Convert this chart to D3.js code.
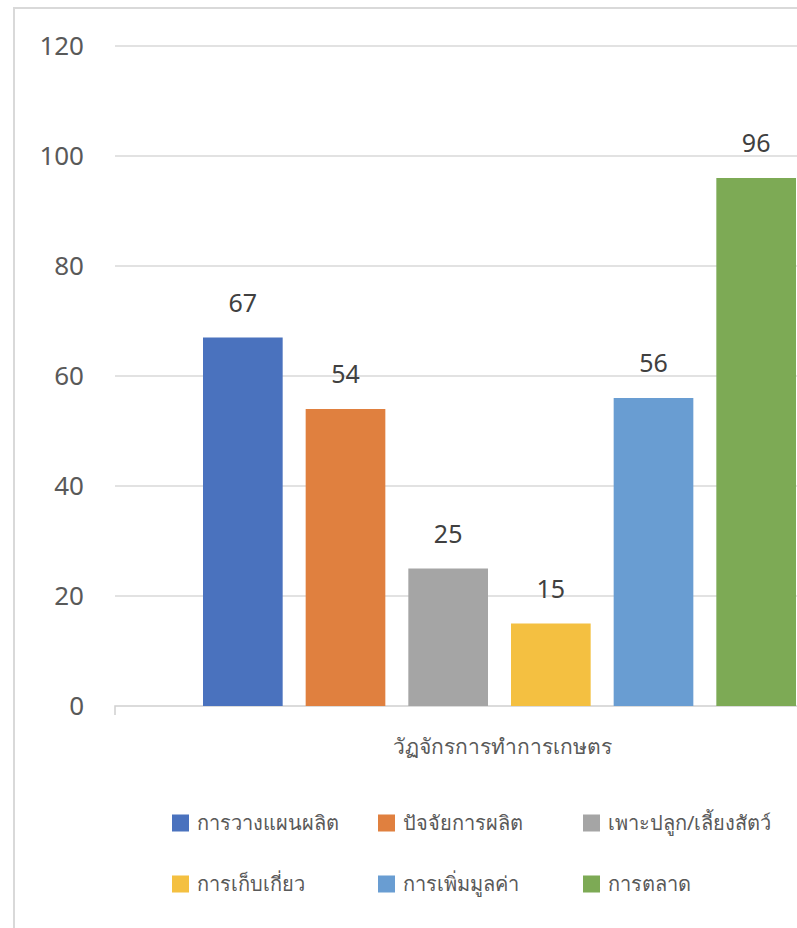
<!DOCTYPE html>
<html><head><meta charset="utf-8">
<script src="https://cdn.jsdelivr.net/npm/d3@7"></script>
<style>
html,body{margin:0;padding:0;background:#fff;}
svg{display:block;font-family:"Noto Sans","Open Sans",sans-serif;}
</style></head>
<body><svg id="chart" width="797" height="928"></svg>
<script>
const categories = ["วัฏจักรการทำการเกษตร"];
const seriesNames = ["การวางแผนผลิต","ปัจจัยการผลิต","เพาะปลูก/เลี้ยงสัตว์","การเก็บเกี่ยว","การเพิ่มมูลค่า","การตลาด"];
const seriesValues = [67, 54, 25, 15, 56, 96];
const seriesColors = ["#4A72BE","#E0803F","#A5A5A5","#F4C041","#699DD2","#7DAA55"];
const yTicks = [0, 20, 40, 60, 80, 100, 120];

const svg = d3.select("#chart");
// chart border
svg.append("path").attr("d","M14,940 L14,8 L810,8")
  .attr("fill","none").attr("stroke","#d9d9d9").attr("stroke-width",2);

const plotLeft = 115, plotRight = 884, plotTop = 46, plotBottom = 706;
const y = d3.scaleLinear().domain([0,120]).range([plotBottom, plotTop]);
const x0 = d3.scaleBand().domain(categories).range([plotLeft, plotRight]);
const x1 = d3.scaleBand().domain(seriesNames)
  .range([x0(categories[0]) + 76.5, x0(categories[0]) + x0.bandwidth() - 76.5])
  .paddingInner(0.224).paddingOuter(0.112);

// gridlines
svg.append("g").selectAll("line").data(yTicks.filter(d=>d>0)).join("line")
  .attr("x1",plotLeft).attr("x2",800)
  .attr("y1",d=>y(d)).attr("y2",d=>y(d))
  .attr("stroke","#d9d9d9").attr("stroke-width",1.5);

// y tick labels
svg.append("g").selectAll("text").data(yTicks).join("text")
  .attr("x",84).attr("y",d=>y(d)).attr("dy","0.33em")
  .attr("text-anchor","end").attr("font-size",26).attr("fill","#595959")
  .text(d=>d);

// x axis
const xAxis = d3.axisBottom(x0).tickSize(9).tickFormat("");
const gx = svg.append("g").attr("transform",`translate(0,${plotBottom})`).call(xAxis);
gx.select(".domain").attr("stroke","#d0d0d0").attr("stroke-width",1.5)
  .attr("d",`M${plotLeft},9V0H800`);
gx.selectAll(".tick").remove();

// bars
const bars = seriesNames.map((s,i)=>({s, v: seriesValues[i], c: seriesColors[i]}));
svg.append("g").selectAll("rect").data(bars).join("rect")
  .attr("x",d=>x1(d.s)).attr("width",x1.bandwidth())
  .attr("y",d=>y(d.v)).attr("height",d=>plotBottom - y(d.v))
  .attr("fill",d=>d.c);

// data labels
svg.append("g").selectAll("text").data(bars).join("text")
  .attr("x",d=>x1(d.s)+x1.bandwidth()/2).attr("y",d=>y(d.v)-26)
  .attr("text-anchor","middle").attr("font-size",25).attr("fill","#404040")
  .text(d=>d.v);

// category label
svg.append("text").attr("x",x0(categories[0]) + 387).attr("y",754)
  .attr("text-anchor","middle").attr("font-size",21).attr("fill","#595959")
  .text(categories[0]);

// legend
const legendX = [172, 378, 583], legendY = [823, 884];
const lg = svg.append("g").selectAll("g").data(bars).join("g")
  .attr("transform",(d,i)=>`translate(${legendX[i%3]},${legendY[Math.floor(i/3)]})`);
lg.append("rect").attr("x",0).attr("y",-8.5).attr("width",17).attr("height",17).attr("fill",d=>d.c);
lg.append("text").attr("x",25).attr("y",0).attr("dy","0.36em")
  .attr("font-size",20).attr("fill","#595959").text(d=>d.s);
</script></body></html>
